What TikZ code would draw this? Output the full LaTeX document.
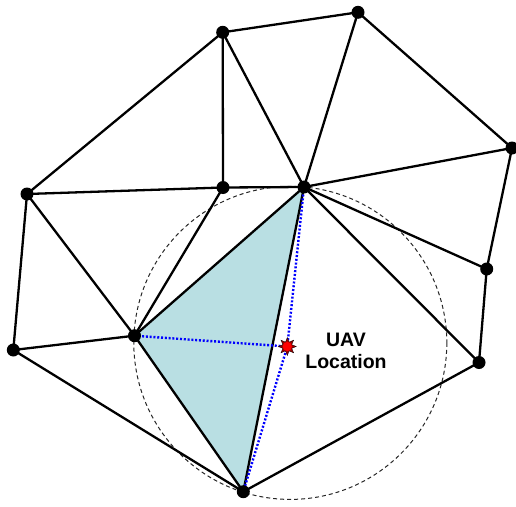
\documentclass[tikz,border=0pt]{standalone}
\usepackage{fontspec}
\setmainfont{Liberation Sans}
\usetikzlibrary{shapes.geometric}
\definecolor{tri}{RGB}{185,223,227}
\definecolor{stardark}{RGB}{150,0,0}
\begin{document}
\begin{tikzpicture}[x=1pt,y=-1pt,
  vtx/.style={circle,fill=black,inner sep=0pt,minimum size=13pt},
  edge/.style={line width=2.3pt},
  bluedot/.style={blue,line width=2.4pt,dash pattern=on 2pt off 1.8pt},
  circ/.style={line width=1pt,dash pattern=on 4pt off 3pt,black!85}]
\useasboundingbox (0,0) rectangle (516,506);
\coordinate (A) at (222.7,32.3);
\coordinate (B) at (358,12.3);
\coordinate (C) at (512,148);
\coordinate (D) at (27,194);
\coordinate (E) at (223,187.5);
\coordinate (F) at (304,187);
\coordinate (G) at (486.7,269);
\coordinate (H) at (134.5,335.7);
\coordinate (I) at (13.3,350);
\coordinate (J) at (479,362.5);
\coordinate (K) at (243.3,491.7);
\coordinate (U) at (287.3,346.5);
\fill[tri] (H) -- (F) -- (K) -- cycle;
\draw[circ] (290.3,342.9) circle[radius=156.5];
\draw[edge] (A) -- (B);
\draw[edge] (A) -- (D);
\draw[edge] (A) -- (E);
\draw[edge] (A) -- (F);
\draw[edge] (B) -- (F);
\draw[edge] (B) -- (C);
\draw[edge] (C) -- (F);
\draw[edge] (C) -- (G);
\draw[edge] (G) -- (F);
\draw[edge] (G) -- (J);
\draw[edge] (J) -- (F);
\draw[edge] (J) -- (K);
\draw[edge] (E) -- (F);
\draw[edge] (E) -- (D);
\draw[edge] (E) -- (H);
\draw[edge] (D) -- (H);
\draw[edge] (D) -- (I);
\draw[edge] (I) -- (H);
\draw[edge] (I) -- (K);
\draw[edge] (H) -- (K);
\draw[edge] (H) -- (F);
\draw[edge] (F) -- (K);
\draw[bluedot] (H) -- (U);
\draw[bluedot] (F) -- (U) -- (K);
\foreach \n in {A,B,C,D,E,F,G,H,I,J,K} \node[vtx] (v\n) at (\n) {};
\node[star,star points=8,star point ratio=1.9,fill=stardark,draw=black,line width=0.3pt,inner sep=0pt,minimum size=18pt] (uavstar) at (U) {};
\node[circle,fill=red,draw=stardark,line width=0.4pt,inner sep=0pt,minimum size=10pt] (uavdot) at (U) {};
\node[font=\bfseries\fontsize{19.5}{22.6}\selectfont,align=center,inner sep=0pt] (lbl) at (346,351) {UAV\\Location};
\end{tikzpicture}
\end{document}
